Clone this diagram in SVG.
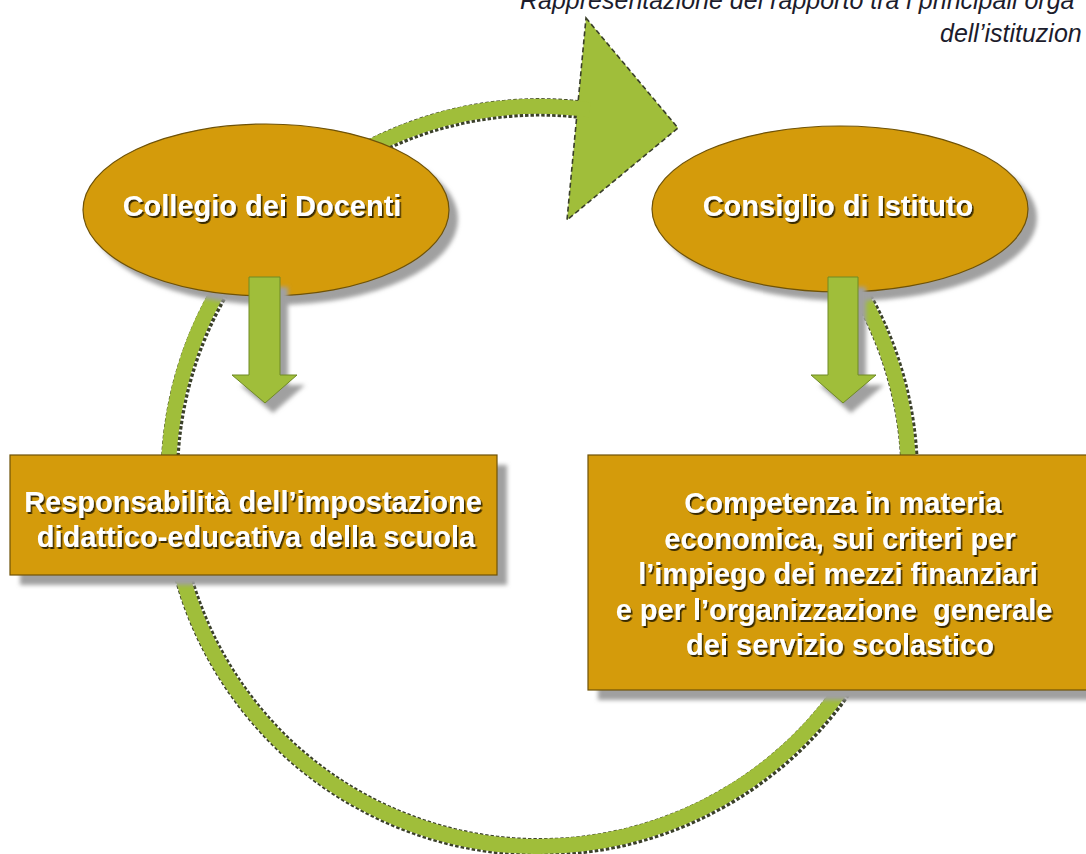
<svg xmlns="http://www.w3.org/2000/svg" width="1086" height="854" viewBox="0 0 1086 854">
<style>
.lbl{font-family:"Liberation Sans",Arial,sans-serif;font-weight:bold;font-size:29px;fill:#ffffff;text-anchor:middle;filter:url(#ts)}
.gold{fill:#D49B0B;stroke:#6E5208;stroke-width:1.2}
.sh{fill:#A0A0A0;filter:url(#blur)}
.garrow{fill:#A0BE3A;stroke:#6F8A25;stroke-width:1}
.title{font-family:"Liberation Sans",Arial,sans-serif;font-style:italic;font-size:25px;fill:#1c1c2c}
.ring{fill:none;stroke:#A0BE3A;stroke-width:15}
.ringEdge{fill:none;stroke:#3a3f2a;stroke-width:18.5;stroke-dasharray:3.5 2}
</style>
<defs>
<filter id="blur" x="-10%" y="-10%" width="120%" height="130%"><feGaussianBlur stdDeviation="2"/></filter>
<filter id="ts" x="-5%" y="-20%" width="110%" height="150%"><feDropShadow dx="1.6" dy="2" stdDeviation="0.7" flood-color="#2a1e00" flood-opacity="0.9"/></filter>
</defs>
<rect width="1086" height="854" fill="#ffffff"/>

<g id="title">
<text class="title" x="520" y="9">Rappresentazione del rapporto tra i principali orga</text>
<text class="title" x="940" y="42">dell’istituzion</text>
</g>

<g id="connectors">
<path class="ringEdge" d="M 760 180 A 370 370 0 1 1 584 110"/>
<polygon points="586,18 678,128 567,220" fill="#A0BE3A" stroke="#3a3f2a" stroke-width="1.6" stroke-dasharray="5 3"/>
<path class="ring" d="M 760 180 A 370 370 0 1 1 590 110"/>
</g>

<g id="shadows">
<ellipse class="sh" cx="275" cy="219" rx="183" ry="86"/>
<ellipse class="sh" cx="849" cy="218" rx="188" ry="83"/>
<rect class="sh" x="20" y="465" width="487" height="120"/>
<rect class="sh" x="598" y="465" width="505" height="235"/>
</g>

<g id="collegio">
<ellipse class="gold" cx="266" cy="210" rx="183" ry="86"/>
<text class="lbl" x="262" y="216">Collegio dei Docenti</text>
</g>

<g id="consiglio">
<ellipse class="gold" cx="840" cy="209" rx="188" ry="83"/>
<text class="lbl" x="838" y="216">Consiglio di Istituto</text>
</g>

<g id="arrow-left">
<polygon class="sh" points="257,287 288,287 288,385 305,385 273,413 240,385 257,385"/>
<polygon class="garrow" points="249,277 280,277 280,375 297,375 265,403 232,375 249,375"/>
</g>

<g id="arrow-right">
<polygon class="sh" points="836,287 866,287 866,385 884,385 851,413 819,385 836,385"/>
<polygon class="garrow" points="828,277 858,277 858,375 876,375 843,403 811,375 828,375"/>
</g>

<g id="box-left">
<rect class="gold" x="10" y="455" width="487" height="120"/>
<text class="lbl" x="253" y="512">Responsabilità dell’impostazione</text>
<text class="lbl" x="256" y="547">didattico-educativa della scuola</text>
</g>

<g id="box-right">
<rect class="gold" x="588" y="455" width="505" height="235"/>
<text class="lbl" x="843" y="513">Competenza in materia</text>
<text class="lbl" x="840" y="549">economica, sui criteri per</text>
<text class="lbl" x="838" y="584">l’impiego dei mezzi finanziari</text>
<text class="lbl" x="834" y="620" xml:space="preserve">e per l’organizzazione  generale</text>
<text class="lbl" x="840" y="655">dei servizio scolastico</text>
</g>
</svg>
